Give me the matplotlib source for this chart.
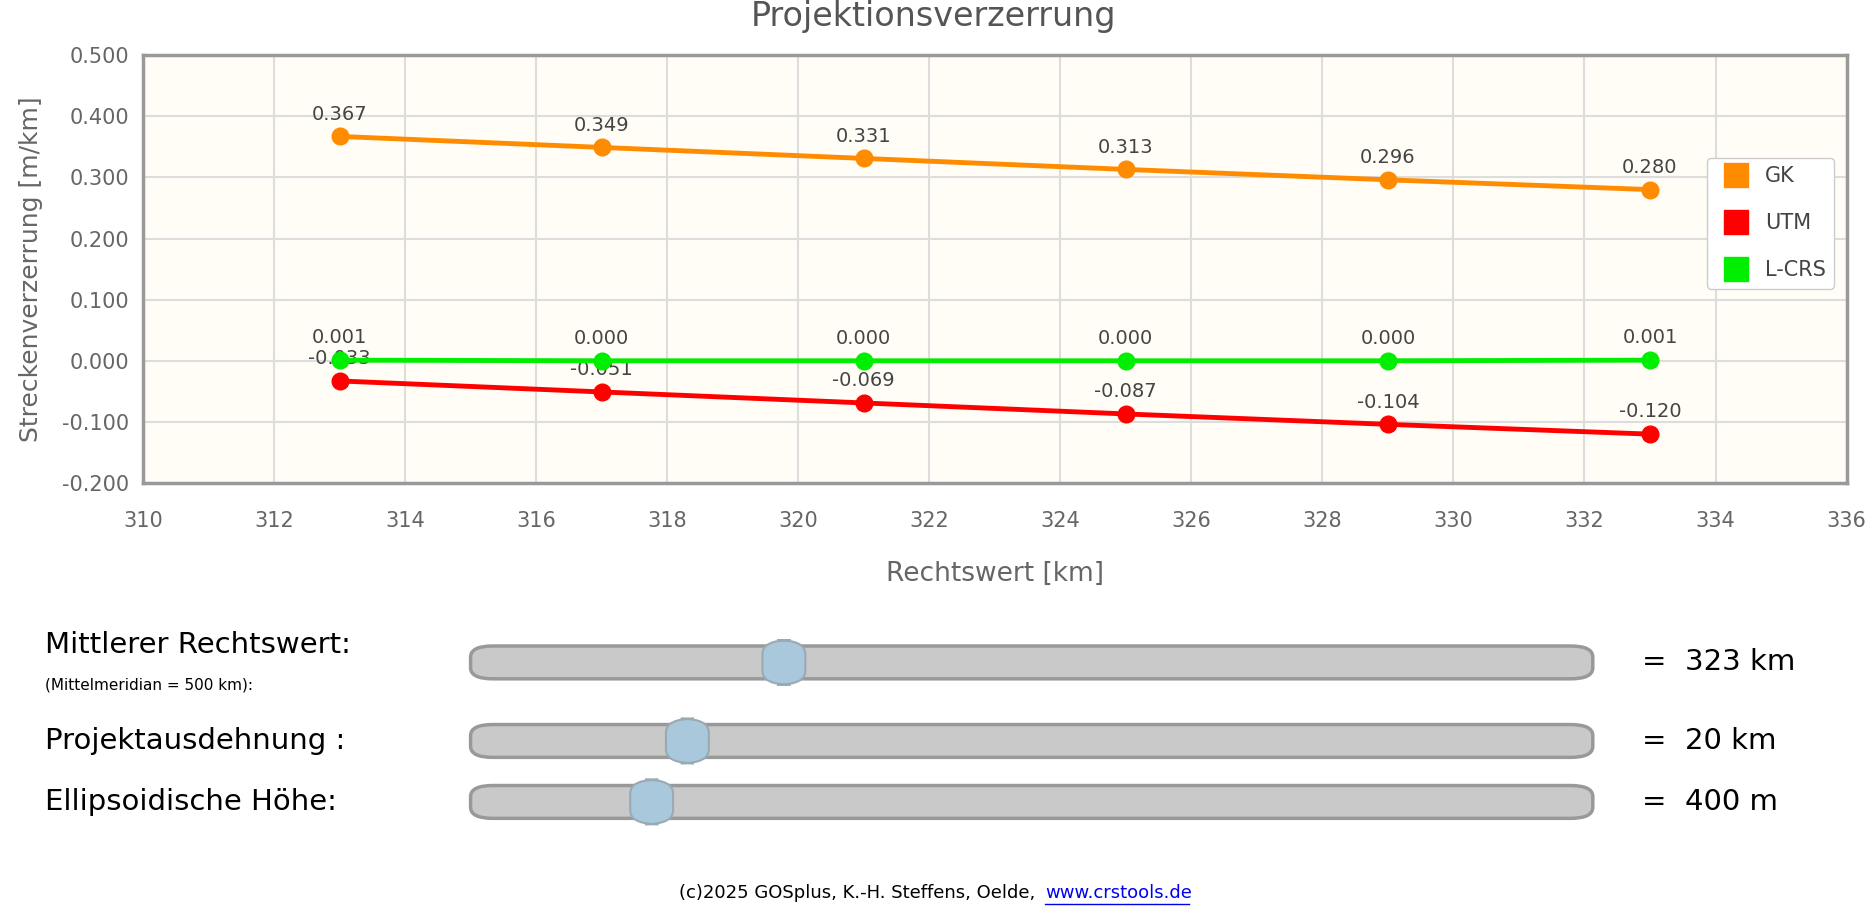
import matplotlib.pyplot as plt
from matplotlib.patches import FancyBboxPatch
import matplotlib.lines as mlines

x = [313, 317, 321, 325, 329, 333]
gk = [0.367, 0.349, 0.331, 0.313, 0.296, 0.280]
utm = [-0.033, -0.051, -0.069, -0.087, -0.104, -0.120]
lcrs = [0.001, 0.000, 0.000, 0.000, 0.000, 0.001]

sliders = [("Mittlerer Rechtswert:", "=  323 km", 658, 565, 550),
           ("Projektausdehnung :", "=  20 km", 577, 632, 632),
           ("Ellipsoidische Höhe:", "=  400 m", 547, 684, 684)]

W, H = 1568.0, 783.0  # reference layout units
def fx(px): return px / W
def fy(py): return 1 - py / H

fig = plt.figure(figsize=(18.68, 9.18), dpi=100)
ax = fig.add_axes([fx(120), fy(412), fx(1550) - fx(120), fy(47) - fy(412)])
ax.set_facecolor('#fffdf5')

for vals, col in [(gk, '#ff8c00'), (utm, '#ff0000'), (lcrs, '#00ee00')]:
    ax.plot(x, vals, color=col, lw=3.5, marker='o', ms=12, zorder=3)
    for xi, v in zip(x, vals):
        ax.annotate('%.3f' % v, (xi, v), textcoords='offset points', xytext=(0, 12),
                    ha='center', fontsize=14, color='#444444')

ax.set_xlim(310, 336)
ax.set_ylim(-0.2, 0.5)
ax.set_xticks(range(310, 337, 2))
ax.set_yticks([-0.2, -0.1, 0, 0.1, 0.2, 0.3, 0.4, 0.5])
ax.set_yticklabels(['%.3f' % t for t in ax.get_yticks()])
ax.grid(color='#dddddd', lw=1.5)
ax.set_axisbelow(True)
ax.tick_params(colors='#666666', labelsize=15, length=0, pad=10)
ax.tick_params(axis='x', pad=20)
for s in ax.spines.values():
    s.set_color('#999999')
    s.set_linewidth(2.5)
ax.set_xlabel('Rechtswert [km]', fontsize=19, color='#666666', labelpad=22)
ax.set_ylabel('Streckenverzerrung [m/km]', fontsize=18, color='#666666', labelpad=14)
fig.text(0.5, fy(14), 'Projektionsverzerrung', ha='center', va='center', fontsize=24, color='#555555')

handles = [mlines.Line2D([], [], color=c, marker='s', ls='none', ms=17) for c in ['#ff8c00', '#ff0000', '#00ee00']]
ax.legend(handles, ['GK', 'UTM', 'L-CRS'], loc='upper left', bbox_to_anchor=(0.918, 0.76),
          fontsize=15, labelspacing=1.3, handletextpad=0.4, framealpha=1, edgecolor='#cccccc',
          labelcolor='#444444', borderaxespad=0)

for label, val, knob, yc, ly in sliders:
    h = 28 / H
    fig.patches.append(FancyBboxPatch((fx(395), fy(yc) - h / 2), fx(1337) - fx(395), h,
                                      boxstyle='round,pad=0,rounding_size=0.012', transform=fig.transFigure,
                                      facecolor='#c9c9c9', edgecolor='#999999', lw=2.5))
    fig.patches.append(FancyBboxPatch((fx(knob - 18), fy(yc) - 38 / H / 2), 36 / W, 38 / H,
                                      boxstyle='round,pad=0,rounding_size=0.015', transform=fig.transFigure,
                                      facecolor='#a9c8dc', edgecolor='#9aaab5', lw=1.5))
    fig.text(fx(38), fy(ly), label, fontsize=21, va='center')
    fig.text(fx(1378), fy(yc), val, fontsize=21, va='center')
fig.text(fx(38), fy(584), '(Mittelmeridian = 500 km):', fontsize=11, va='center')

fig.text(fx(570), fy(762), '(c)2025 GOSplus, K.-H. Steffens, Oelde, ', fontsize=13, va='center')
fig.text(fx(877), fy(762), 'www.crstools.de', fontsize=13, va='center', color='#0000ee')
fig.lines.append(mlines.Line2D([fx(877), fx(998)], [fy(771), fy(771)], color='#0000ee', lw=1,
                               transform=fig.transFigure))

fig.savefig('out.png', dpi=100)
